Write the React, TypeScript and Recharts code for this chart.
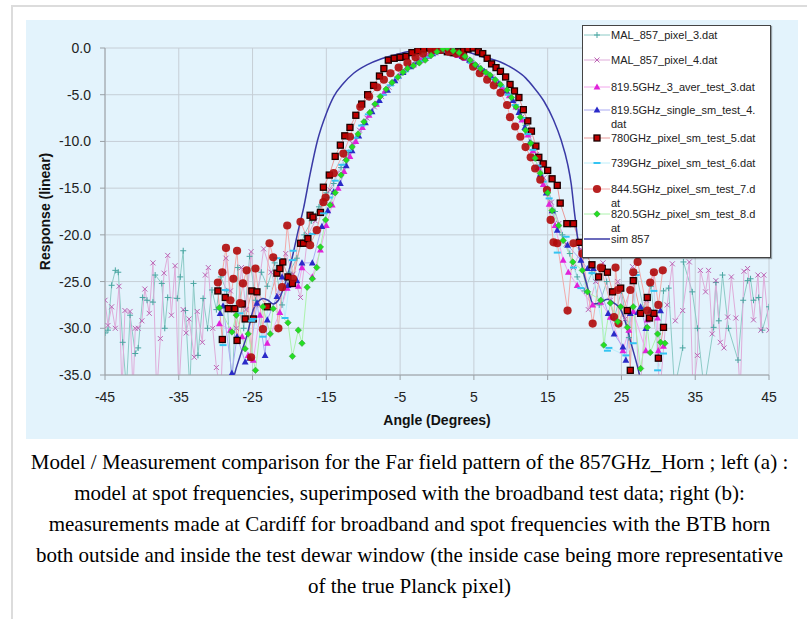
import { LineChart, Line, XAxis, YAxis, CartesianGrid } from "recharts";

type Pt = [number, number];

const xTicks = [-45, -35, -25, -15, -5, 5, 15, 25, 35, 45];
const yTicks = [0, -5, -10, -15, -20, -25, -30, -35];

// angle (deg), response
const mal3: Pt[] = [
  [-45, -30.5], [-44.6, -30.2], [-44.1, -25.4], [-43.6, -23.8], [-43.2, -24], [-42.6, -31.5], [-42.1, -36.5],
  [-41.6, -28.6], [-40.9, -32.7], [-40.5, -32.1], [-39.9, -26.7], [-39.3, -27], [-38.5, -27.2], [-38.2, -24.3],
  [-37.3, -25.2], [-36.9, -30], [-36.5, -26.7], [-35.2, -26.8], [-34.8, -24.5], [-34.4, -21.7], [-34.1, -28.1],
  [-33.5, -36.5], [-33, -25.2], [-32.4, -32.9], [-31.7, -26.8], [-31.1, -30], [-30.5, -25.9], [-29.9, -28],
  [-29.3, -24.5], [-28.5, -26], [-27.8, -36.5], [-27, -23.5], [-26.2, -30], [-25.4, -22.3], [-24.6, -27],
  [-23.8, -24], [-23, -25.5], [-22, -23], [-21, -27.5], [-20, -24], [-19, -22.5], [-18, -20], [-17, -18.5],
  [-16, -17], [-15, -15.5], [-14, -14.5], [-13, -12.8], [-12, -11.2], [-11, -9.6], [-10, -8.2], [-9, -7],
  [-8, -5.8], [-7, -4.7], [-6, -3.7], [-5, -2.9], [-4, -2.2], [-3, -1.6], [-2, -1.1], [-1, -0.6], [0, -0.3],
  [1, -0.2], [2, -0.4], [3, -0.7], [4, -1.1], [5, -1.6], [6, -2.2], [7, -2.8], [8, -3.5], [9, -4.3], [10, -5.3],
  [11, -6.6], [12, -8.3], [13, -10.3], [14, -12.6], [15, -15], [16, -17.5], [17, -20], [18, -22], [19, -24.5],
  [20, -26], [21, -24], [22, -27.5], [23, -25], [24, -29], [25, -26], [26, -31], [27, -24], [28, -28],
  [29, -25.5], [30, -33], [30.7, -26], [31.4, -25.7], [32.2, -36.5], [33.3, -32.1], [33.4, -22.9], [34.6, -26.1],
  [35.3, -30], [36.2, -36.5], [37.5, -29.9], [37.8, -25.1], [38.2, -29.2], [38.7, -24.3], [39.5, -30],
  [40.8, -33.4], [41.5, -27], [42.1, -24.9], [42.5, -24.7], [42.9, -27], [43.6, -26.7], [44.1, -30.2], [45, -27.7],
];

const mal4: Pt[] = [
  [-45, -27], [-44.6, -29.7], [-44.1, -27.7], [-43.6, -30], [-43.1, -25.5], [-42.7, -37], [-42.3, -28.1],
  [-41.6, -28.2], [-41.2, -37], [-40.9, -30], [-40.5, -30], [-40, -29.2], [-39.6, -25.8], [-39, -28.4],
  [-38.5, -23], [-38, -37], [-37.5, -31.1], [-37, -24.1], [-36.5, -22.2], [-36, -28.6], [-35.5, -23.3],
  [-35, -37], [-34.4, -28], [-34, -30.5], [-33.6, -29], [-32.9, -33.1], [-32.5, -28.2], [-31.8, -31.5],
  [-31.4, -24.3], [-31, -23.5], [-30.4, -30], [-29.9, -34.2], [-29.3, -37], [-28.6, -22.5], [-28, -26],
  [-27.2, -30], [-26.5, -23.5], [-25.9, -28], [-25.2, -21.8], [-24.5, -27.5], [-23.5, -21.5], [-22.5, -24],
  [-21.5, -26.5], [-20.5, -22], [-19.5, -24.2], [-18.5, -26.7], [-17.5, -20], [-16.5, -18.5], [-15.5, -16.5],
  [-14.5, -15.2], [-13.5, -13.4], [-12.5, -11.8], [-11.5, -10.2], [-10.5, -8.8], [-9.5, -7.5], [-8.5, -6.3],
  [-7.5, -5.2], [-6.5, -4.2], [-5.5, -3.3], [-4.5, -2.5], [-3.5, -1.9], [-2.5, -1.3], [-1.5, -0.8],
  [-0.5, -0.4], [0.5, -0.2], [1.5, -0.3], [2.5, -0.6], [3.5, -0.9], [4.5, -1.4], [5.5, -1.9], [6.5, -2.5],
  [7.5, -3.1], [8.5, -3.9], [9.5, -4.8], [10.5, -5.9], [11.5, -7.4], [12.5, -9.2], [13.5, -11.4], [14.5, -13.9],
  [15.5, -16.5], [16.5, -18.8], [17.5, -21], [18.5, -23.5], [19.5, -21.5], [20.5, -28], [21.5, -25], [22.5, -23],
  [23.5, -27], [24.5, -25], [25.5, -29], [26.5, -23.4], [27.5, -37], [28.4, -27], [29.3, -24], [30.2, -37],
  [31.2, -27.5], [31.9, -23.1], [32.3, -29.2], [33.3, -28.1], [34.2, -22.9], [34.7, -37], [35.3, -32.9],
  [35.7, -23.8], [36.4, -26.1], [36.8, -23.8], [37.3, -30.6], [37.8, -24.9], [38.4, -31.5], [38.9, -32.1],
  [39.4, -28.8], [39.9, -24.5], [40.5, -28.9], [41.1, -37], [41.6, -23.9], [42.1, -23.6], [42.9, -29.1],
  [43.5, -24.3], [43.9, -30.2], [44.3, -24.3], [45, -30.2],
];

const aver3: Pt[] = [
  [-29.5, -29.5], [-28, -30.2], [-26.4, -30.9], [-25.6, -32.9], [-24.9, -33.4], [-24, -28.6], [-23, -31.6],
  [-21.3, -28.3], [-20.3, -25.7], [-18.8, -25.5], [-18.3, -23.5], [-16.9, -24.5], [-15.8, -21.6], [-15, -19],
  [-14.2, -16.8], [-13.4, -15], [-12.6, -13.2], [-11.8, -11.6], [-11, -10], [-10.1, -8.5], [-9.2, -7.2],
  [-8.2, -6], [-7.2, -4.8], [-6.2, -3.8], [-5.2, -3], [-4.2, -2.3], [-3.2, -1.8], [-2.2, -1.3], [-1.2, -0.9],
  [-0.2, -0.5], [0.8, -0.3], [1.8, -0.5], [2.8, -0.8], [3.8, -1.1], [4.8, -1.6], [5.8, -2.2], [6.8, -2.8],
  [7.8, -3.4], [8.8, -4.2], [9.8, -5.1], [10.7, -6.3], [11.5, -7.7], [12.3, -9.3], [13, -11], [13.7, -12.8],
  [14.4, -14.6], [15.2, -16.7], [16, -19], [17.1, -22.7], [17.8, -24], [19, -25.4], [21.1, -27.5], [22.2, -27.2],
  [23.5, -28.8], [25.2, -32.4], [26, -30.2], [26.6, -28.2], [28.3, -32.4], [28.5, -29.1], [29.9, -28.9],
  [30, -32.4], [30.7, -31.9],
];

const single4: Pt[] = [
  [-29.4, -28.4], [-29, -27.6], [-27.8, -34.8], [-27.1, -30.9], [-26, -33.6], [-25.4, -33.2], [-24.4, -27.3],
  [-23.3, -32.9], [-23, -29.1], [-21.7, -26.6], [-21, -24.5], [-20.2, -25.4], [-19, -24.9], [-18.3, -23],
  [-16.9, -23], [-15.6, -19.1], [-14.8, -17.4], [-14, -15.4], [-13.1, -14.5], [-12.3, -12.6], [-11.5, -11],
  [-10.6, -9.4], [-9.7, -8], [-8.8, -6.8], [-7.8, -5.6], [-6.7, -4.5], [-5.7, -3.5], [-4.6, -2.6], [-3.6, -2],
  [-2.6, -1.5], [-1.6, -1.1], [-0.6, -0.6], [0.4, -0.3], [1.4, -0.4], [2.4, -0.6], [3.4, -0.9], [4.4, -1.3],
  [5.4, -1.9], [6.4, -2.5], [7.4, -3.1], [8.4, -3.8], [9.4, -4.6], [10.3, -5.6], [11.1, -6.9], [11.9, -8.5],
  [12.6, -10.1], [13.3, -11.8], [14, -13.5], [14.8, -15.5], [15.6, -17.4], [16.3, -19.5], [17.7, -21.1],
  [19.5, -22.7], [20.4, -23.6], [21.2, -23.6], [23.2, -28.4], [24, -30.6], [25.2, -32], [25.6, -33.4],
  [26.2, -28.4], [27.2, -28.3], [27.6, -27.7], [28.3, -30], [28.9, -28.1], [30.3, -28.1],
];

const pix5: Pt[] = [
  [-29.7, -26], [-29.1, -31.2], [-28.7, -26.7], [-28.3, -27.9], [-27.4, -27.9], [-27.1, -31.3], [-26.4, -27.4],
  [-26, -29], [-25.1, -26], [-24.9, -29], [-24.4, -26.1], [-23, -27.7], [-21.7, -24.1], [-21.3, -23.6],
  [-20.9, -22.9], [-20.2, -24.5], [-19.6, -25.2], [-18.5, -20.9], [-18.1, -20.9], [-17.5, -20.4], [-17.2, -17.9],
  [-16.8, -18.1], [-15.8, -17.6], [-15.4, -14.9], [-14.6, -13.6], [-13.8, -11.6], [-13.1, -10.4], [-12.5, -9.4],
  [-11.8, -8.5], [-11, -7.2], [-10.2, -6], [-9.4, -5], [-8.6, -4], [-7.8, -3], [-7.2, -2.2], [-6.6, -1.3],
  [-5.8, -1.1], [-5, -1], [-4.2, -0.9], [-3.4, -0.5], [-2.6, -0.3], [-1.8, -0.1], [-1, 0], [-0.2, -0.1],
  [0.6, -0.2], [1.4, -0.4], [2.2, -0.5], [2.9, -0.4], [3.6, -0.3], [4.2, -0.1], [4.9, 0], [5.6, -0.4],
  [6.2, -0.6], [6.8, -1.1], [7.4, -1.7], [8, -2.1], [8.6, -2.5], [9.3, -3.1], [9.9, -3.9], [10.5, -4.6],
  [11.1, -5.3], [11.7, -6.6], [12.3, -7.8], [12.8, -8.9], [13.4, -10.5], [13.8, -11.7], [14.4, -12.4],
  [15, -13.1], [15.6, -14], [16.3, -14.7], [16.7, -16.6], [17.6, -18.8], [18.5, -18.8], [19.3, -20.8],
  [20.2, -22.1], [21, -23.2], [21.9, -24.5], [22.4, -23.6], [23.1, -24], [23.8, -26.1], [24.9, -25.7],
  [25.8, -28.1], [26.2, -34.5], [26.6, -24.9], [27.6, -28.4], [28.5, -26.7], [28.8, -28.9], [29.4, -28.4],
  [30, -33.2], [30.7, -29.9],
];

const pix6: Pt[] = [
  [-29, -31.8], [-28.7, -25.9], [-26.7, -28.4], [-25.1, -29.2], [-24.9, -29], [-23.6, -30.9], [-21.7, -22.5],
  [-20.6, -28.9], [-19.6, -22.7], [-19.5, -21.7], [-16.9, -19.9], [-15.4, -17.7], [-14.6, -16], [-13.8, -14.2],
  [-12.9, -12.5], [-12, -11], [-11.1, -9.6], [-10.2, -8.3], [-9.3, -7.1], [-8.3, -6], [-7.3, -5], [-6.3, -4],
  [-5.3, -3.2], [-4.3, -2.5], [-3.3, -1.9], [-2.3, -1.4], [-1.3, -1], [-0.3, -0.6], [0.7, -0.4], [1.7, -0.6],
  [2.7, -0.8], [3.7, -1.2], [4.7, -1.6], [5.7, -2.1], [6.7, -2.7], [7.7, -3.3], [8.7, -4.1], [9.7, -5],
  [10.6, -6.1], [11.5, -7.5], [12.3, -9.2], [13, -10.9], [13.7, -12.6], [14.4, -14.3], [15.2, -16.1],
  [16.3, -21.9], [17.5, -20.2], [18.5, -23.5], [19.5, -25.7], [21, -24.1], [23.1, -32.4], [23.3, -32.1],
  [25.6, -32.9], [26.6, -31.6], [27, -24.3], [29.4, -26], [29.9, -34.5], [30.7, -32.7],
];

const pix7: Pt[] = [
  [-29.7, -25.1], [-29.1, -24], [-28.6, -21.4], [-28, -27], [-27.6, -24.7], [-27.1, -21.7], [-26.7, -27.3],
  [-26.3, -25.2], [-25.8, -23.8], [-25.2, -33.1], [-24.6, -23.6], [-23.6, -30.1], [-22.7, -20.9], [-22.2, -22.4],
  [-21.5, -30], [-21, -25.6], [-20.3, -19], [-19.5, -24.7], [-18.5, -18.6], [-17.2, -21.1], [-16.3, -19.5],
  [-15.4, -16.5], [-15.1, -16], [-14, -13.4], [-12.7, -11.3], [-11.8, -9.5], [-10.4, -6.3], [-9.2, -5.2],
  [-8.1, -4.2], [-7.2, -3.4], [-6.3, -2.7], [-5.2, -2.1], [-4, -1.6], [-2.9, -1], [-1.9, -0.6], [-0.7, -0.3],
  [0.5, -0.2], [1.6, -0.4], [2.6, -0.6], [3.6, -0.9], [4.9, -2], [5.8, -2.7], [6.8, -3.4], [7.7, -4],
  [8.6, -4.8], [9.5, -6.1], [9.9, -7.4], [10.6, -8.4], [11.3, -9.5], [12, -10.6], [12.7, -11.7], [13.3, -12.9],
  [14, -14.1], [14.9, -15.2], [15.4, -18.4], [15.8, -20.8], [16.3, -20.9], [17.7, -28.1], [18.5, -20.9],
  [19.7, -22], [21.1, -29.5], [22.2, -23.5], [24, -28.8], [24.2, -23.5], [24.5, -25.9], [24.6, -29.5],
  [26.2, -25.9], [26.6, -24], [27.2, -22.9], [28.5, -28.1], [28.9, -25.1], [29.4, -24], [30, -27.5], [30.6, -23.8],
];

const pix8: Pt[] = [
  [-29.5, -27.8], [-27.8, -30.4], [-27.2, -28.6], [-26, -32.2], [-25.6, -30.6], [-24.6, -34.5], [-23.6, -27.7],
  [-22.6, -30.6], [-22.2, -27.9], [-20.2, -29.4], [-19.6, -33], [-18.8, -30.2], [-18.3, -31.6], [-17.6, -25.6],
  [-16.9, -24.7], [-16.3, -23.5], [-15.8, -21.3], [-15.1, -18.4], [-14.5, -16.8], [-13.8, -15.5], [-13, -13.6],
  [-12.3, -12], [-11.5, -10.6], [-10.7, -9.2], [-9.9, -7.9], [-9.1, -6.9], [-8.4, -6], [-7.7, -5.2],
  [-6.9, -4.4], [-6.1, -3.7], [-5.3, -3.1], [-4.6, -2.6], [-4, -2.2], [-3.2, -1.9], [-2.4, -1.6], [-1.6, -1.3],
  [-0.8, -0.8], [0, -0.4], [0.8, -0.1], [1.4, 0], [2.2, -0.3], [3, -0.5], [3.8, -0.9], [4.5, -1.3], [5.2, -1.8],
  [5.9, -2.2], [6.6, -2.6], [7.2, -2.9], [7.9, -3.4], [8.6, -3.9], [9.5, -4.5], [10.1, -5.3], [10.7, -6.3],
  [11.3, -7.4], [12, -8.8], [12.7, -10.2], [13.3, -11.8], [14, -13.4], [15, -15.5], [15.6, -17.4], [16.5, -19],
  [17.1, -20.6], [18.4, -22.9], [19.7, -23.8], [20.4, -26.1], [22.2, -27], [22.6, -31.8], [23.5, -27.3],
  [24.5, -29.3], [24.9, -27.7], [25.8, -29.9], [26.6, -27.7], [27.6, -34.3], [28.5, -29.9], [28.9, -32.6],
  [29.9, -30.6], [30.3, -31.5], [30.9, -31.6],
];

const sim857: Pt[] = [
  [-28, -37], [-27.4, -34.8], [-26.7, -33], [-25.7, -30.6], [-24.9, -28], [-24.2, -27.1], [-23.6, -26.8],
  [-22.9, -27], [-22.2, -27.4], [-21.5, -27], [-20.8, -25.7], [-20.3, -24.5], [-19.5, -22], [-18.8, -19.5],
  [-18.1, -17.2], [-17.2, -13.5], [-16.2, -9.9], [-15, -7], [-14, -5.2], [-12.7, -3.8], [-11.3, -2.7],
  [-9.5, -1.8], [-7.7, -1.2], [-6, -0.8], [-4, -0.4], [-2, -0.15], [0, 0], [2, -0.1], [4, -0.4], [6, -0.9],
  [8.6, -1.5], [10.5, -2.3], [12, -3.2], [13.1, -4.2], [14.5, -5.7], [15.8, -7.7], [16.8, -9.8], [17.7, -12.4],
  [18.2, -14.6], [18.6, -17.4], [19, -20], [19.5, -22.7], [20.4, -25.6], [21.2, -27.4], [22, -27.3],
  [23.1, -26.9], [24, -27.3], [24.9, -28], [25.6, -29.5], [26.2, -31.3], [27.3, -34.5], [28, -37],
];

type Kind = "plus" | "cross" | "tri" | "square" | "dash" | "circle" | "diamond" | "none";

const series: { id: string; label: string[]; pts: Pt[]; line: string; mark: string; edge?: string; kind: Kind; width: number }[] = [
  { id: "mal3", label: ["MAL_857_pixel_3.dat"], pts: mal3, line: "#8ccac6", mark: "#4aa6a2", kind: "plus", width: 1 },
  { id: "mal4", label: ["MAL_857_pixel_4.dat"], pts: mal4, line: "#dfacda", mark: "#bc64b4", kind: "cross", width: 1 },
  { id: "t3", label: ["819.5GHz_3_aver_test_3.dat"], pts: aver3, line: "#f2a6ec", mark: "#e022da", kind: "tri", width: 1 },
  { id: "t4", label: ["819.5GHz_single_sm_test_4.", "dat"], pts: single4, line: "#aaaaf2", mark: "#2a2ac8", kind: "tri", width: 1 },
  { id: "t5", label: ["780GHz_pixel_sm_test_5.dat"], pts: pix5, line: "#e99a9a", mark: "#c00000", edge: "#1a0000", kind: "square", width: 1 },
  { id: "t6", label: ["739GHz_pixel_sm_test_6.dat"], pts: pix6, line: "#bdeefa", mark: "#34c4f2", kind: "dash", width: 1 },
  { id: "t7", label: ["844.5GHz_pixel_sm_test_7.d", "at"], pts: pix7, line: "#f2aaaa", mark: "#b00a0a", kind: "circle", width: 1 },
  { id: "t8", label: ["820.5GHz_pixel_sm_test_8.d", "at"], pts: pix8, line: "#acf2ac", mark: "#22e022", edge: "#3a9a3a", kind: "diamond", width: 1 },
  { id: "sim", label: ["sim 857"], pts: sim857, line: "#3a3aa6", mark: "#3a3aa6", kind: "none", width: 1.5 },
];

// legend rows, y of first text line inside the box
const legendTops = [9, 34, 61, 84, 112, 137, 163, 188, 213];

function Marker({ kind, cx, cy, color, edge }: { kind: Kind; cx?: number; cy?: number; color: string; edge?: string }) {
  if (cx == null || cy == null || kind === "none") return null;
  switch (kind) {
    case "plus":
      return (
        <g stroke={color} strokeWidth={1}>
          <line x1={cx - 3} y1={cy} x2={cx + 3} y2={cy} />
          <line x1={cx} y1={cy - 3} x2={cx} y2={cy + 3} />
        </g>
      );
    case "cross":
      return (
        <g stroke={color} strokeWidth={1}>
          <line x1={cx - 2.5} y1={cy - 2.5} x2={cx + 2.5} y2={cy + 2.5} />
          <line x1={cx - 2.5} y1={cy + 2.5} x2={cx + 2.5} y2={cy - 2.5} />
        </g>
      );
    case "tri":
      return <polygon points={`${cx},${cy - 3.6} ${cx + 3.4},${cy + 2.6} ${cx - 3.4},${cy + 2.6}`} fill={color} />;
    case "square":
      return <rect x={cx - 3} y={cy - 3} width={6} height={6} fill={color} stroke={edge} strokeWidth={1.3} />;
    case "dash":
      return <rect x={cx - 3.5} y={cy - 1} width={7} height={2} fill={color} />;
    case "circle":
      return <circle cx={cx} cy={cy} r={4.1} fill={color} fillOpacity={0.9} />;
    case "diamond":
      return <polygon points={`${cx},${cy - 3.2} ${cx + 3.2},${cy} ${cx},${cy + 3.2} ${cx - 3.2},${cy}`} fill={color} stroke={edge} strokeWidth={0.6} />;
  }
  return null;
}

function LegendBox() {
  return (
    <div
      style={{
        position: "absolute", left: 556, top: 5, width: 187, height: 231,
        background: "#fff", border: "1.5px solid #444", boxShadow: "1px 1px 1px rgba(0,0,0,0.35)",
        fontFamily: "'Liberation Sans', Arial, sans-serif", fontSize: 11, color: "#222",
      }}
    >
      {series.map((s, i) => (
        <div key={s.id} style={{ position: "absolute", left: 0, top: legendTops[i] - 7, width: 187 }}>
          <svg width={28} height={14} style={{ position: "absolute", left: 0, top: 0 }}>
            <line x1={1} y1={7} x2={27} y2={7} stroke={s.line} strokeWidth={s.width} />
            <Marker kind={s.kind} cx={14} cy={7} color={s.mark} edge={s.edge} />
          </svg>
          <div style={{ position: "absolute", left: 28, top: 0, lineHeight: "14px", whiteSpace: "nowrap" }}>
            {s.label.map((t, k) => (
              <div key={k}>{t}</div>
            ))}
          </div>
        </div>
      ))}
    </div>
  );
}

const caption = [
  "Model / Measurement comparison for the Far field pattern of the 857GHz_Horn ; left (a) :",
  "model at spot frequencies, superimposed with the broadband test data; right (b):",
  "measurements made at Cardiff for broadband and spot frequencies with the BTB horn",
  "both outside and inside the test dewar window (the inside case being more representative",
  "of the true Planck pixel)",
];

export default function App() {
  return (
    <div style={{ position: "absolute", left: 0, top: 0, width: 807, height: 619, background: "#fff", overflow: "hidden" }}>
      <div style={{ position: "absolute", left: 11, top: 5, width: 800, height: 620, borderTop: "2px solid #dcdcdc", borderLeft: "2px solid #dcdcdc" }} />
      <div style={{ position: "absolute", left: 26, top: 20, width: 772, height: 419, background: "#e3f3fc" }}>
        <LineChart
          width={772}
          height={419}
          margin={{ top: 28, right: 29, bottom: 24, left: 0 }}
          style={{ fontFamily: "'Liberation Sans', Arial, sans-serif" }}
        >
          <CartesianGrid stroke="#c6ced6" strokeWidth={1} />
          <XAxis
            type="number"
            dataKey="x"
            domain={[-45, 45]}
            ticks={xTicks}
            allowDataOverflow
            height={40}
            stroke="#9aa0a6"
            tickSize={5}
            tickMargin={12}
            tick={{ fill: "#222", fontSize: 14 }}
            label={{ value: "Angle (Degrees)", position: "bottom", offset: 0, style: { fontWeight: "bold", fontSize: 14, fill: "#111" } }}
          />
          <YAxis
            type="number"
            dataKey="y"
            domain={[-35, 0]}
            ticks={yTicks}
            allowDataOverflow
            width={79}
            stroke="#9aa0a6"
            tickSize={5}
            tickMargin={9}
            tick={{ fill: "#222", fontSize: 14 }}
            tickFormatter={(v: number) => v.toFixed(1)}
            label={{ value: "Response (linear)", angle: -90, position: "insideLeft", offset: 19, style: { textAnchor: "middle", fontWeight: "bold", fontSize: 14, fill: "#111" } }}
          />
          {series.map((s) => (
            <Line
              key={s.id}
              data={s.pts.map(([x, y]) => ({ x, y }))}
              dataKey="y"
              type={s.kind === "none" ? "monotone" : "linear"}
              stroke={s.line}
              strokeWidth={s.width}
              isAnimationActive={false}
              activeDot={false}
              dot={
                s.kind === "none"
                  ? false
                  : (p: any) => <Marker key={`${s.id}-${p.index}`} kind={s.kind} cx={p.cx} cy={p.cy} color={s.mark} edge={s.edge} />
              }
            />
          ))}
        </LineChart>
        <LegendBox />
      </div>
      <div
        style={{
          position: "absolute", left: 12, top: 447, width: 795, textAlign: "center",
          fontFamily: "'Liberation Serif', 'Times New Roman', serif", fontSize: 21, lineHeight: "31px", color: "#000",
        }}
      >
        {caption.map((c, i) => (
          <div key={i} style={{ whiteSpace: "nowrap" }}>{c}</div>
        ))}
      </div>
    </div>
  );
}
